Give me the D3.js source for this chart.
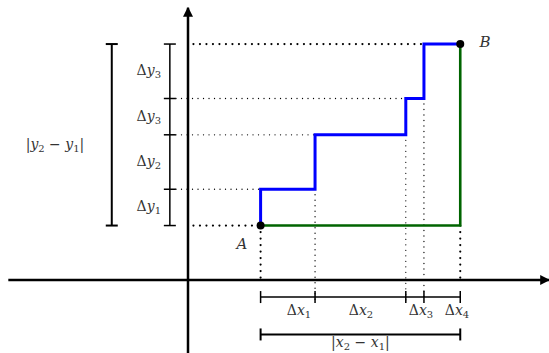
<!DOCTYPE html>
<html>
<head>
<meta charset="utf-8">
<script src="https://cdn.jsdelivr.net/npm/d3@7"></script>
<style>
  body { margin: 0; background: #fff; }
</style>
</head>
<body>
<div id="chart"></div>
<script>
// staircase breakpoints (data units)
var stepX = [2, 3.5, 6, 6.5, 7.5];
var stepY = [1.5, 2.5, 4, 5, 6.5];
var dxLabels = ["1", "2", "3", "4"];
var dyLabels = ["1", "2", "3", "3"];

var width = 549, height = 353;
var serif = "'DejaVu Serif', 'Liberation Serif', serif";
var ink = "#333";

var svg = d3.select("#chart").append("svg")
    .attr("width", width)
    .attr("height", height)
    .attr("font-family", serif);

var x = d3.scaleLinear().domain([-5, 10]).range([6.5, 551]);
var y = d3.scaleLinear().domain([-2, 7.5]).range([352.6, 7.75]);

var defs = svg.append("defs");
defs.append("marker")
    .attr("id", "arrow")
    .attr("viewBox", "0 0 10 10")
    .attr("refX", 9).attr("refY", 5)
    .attr("markerWidth", 4).attr("markerHeight", 4)
    .attr("markerUnits", "strokeWidth")
    .attr("orient", "auto")
    .append("path")
    .attr("d", "M0,0 L10,5 L0,10 z")
    .attr("fill", "#000");

// axes
svg.append("line")
    .attr("x1", x(-4.95)).attr("x2", x(9.95))
    .attr("y1", y(0)).attr("y2", y(0))
    .attr("stroke", "#000").attr("stroke-width", 2.5)
    .attr("marker-end", "url(#arrow)");
svg.append("line")
    .attr("x1", x(0)).attr("x2", x(0))
    .attr("y1", y(-2.1)).attr("y2", y(7.5))
    .attr("stroke", "#000").attr("stroke-width", 2.5)
    .attr("marker-end", "url(#arrow)");

var x0 = stepX[0], y0 = stepY[0];
var xN = stepX[stepX.length - 1], yN = stepY[stepY.length - 1];

function dotted(x1, y1, x2, y2, thick) {
    svg.append("line")
        .attr("x1", x1).attr("y1", y1).attr("x2", x2).attr("y2", y2)
        .attr("stroke", "#000")
        .attr("stroke-width", thick ? 2.2 : 1.3)
        .attr("stroke-linecap", "round")
        .attr("stroke-dasharray", thick ? "0 6.5" : "0 5.5");
}

// thick dotted guides at A and B
dotted(x(0.15), y(yN), x(stepX[3]), y(yN), true);
dotted(x(0.15), y(y0), x(x0), y(y0), true);
dotted(x(x0), y(y0), x(x0), y(0), true);
dotted(x(xN), y(y0), x(xN), y(0), true);

// thin dotted guides at intermediate steps
dotted(x(-0.33), y(stepY[1]), x(stepX[0]), y(stepY[1]), false);
dotted(x(-0.33), y(stepY[2]), x(stepX[1]), y(stepY[2]), false);
dotted(x(-0.33), y(stepY[3]), x(stepX[2]), y(stepY[3]), false);
dotted(x(stepX[1]), y(stepY[1]), x(stepX[1]), y(-0.55), false);
dotted(x(stepX[2]), y(stepY[2]), x(stepX[2]), y(-0.55), false);
dotted(x(stepX[3]), y(stepY[3]), x(stepX[3]), y(-0.55), false);

// green path A -> corner -> B
var line = d3.line().x(function (d) { return x(d[0]); }).y(function (d) { return y(d[1]); });
svg.append("path")
    .attr("d", line([[x0, y0], [xN, y0], [xN, yN]]))
    .attr("fill", "none").attr("stroke", "#006400").attr("stroke-width", 2.6);

// blue staircase
var stairs = [];
for (var i = 0; i < stepX.length - 1; i++) {
    stairs.push([stepX[i], stepY[i]]);
    stairs.push([stepX[i], stepY[i + 1]]);
}
stairs.push([xN, yN]);
svg.append("path")
    .attr("d", line(stairs))
    .attr("fill", "none").attr("stroke", "#0000ff").attr("stroke-width", 3);

// points
svg.selectAll("circle.pt").data([[x0, y0], [xN, yN]]).enter()
    .append("circle")
    .attr("cx", function (d) { return x(d[0]); })
    .attr("cy", function (d) { return y(d[1]); })
    .attr("r", 4).attr("fill", "#000");

svg.append("text").attr("x", 242).attr("y", 249).attr("fill", ink)
    .attr("text-anchor", "middle").attr("font-size", 15).attr("font-style", "italic").text("A");
svg.append("text").attr("x", 485).attr("y", 47).attr("fill", ink)
    .attr("text-anchor", "middle").attr("font-size", 15).attr("font-style", "italic").text("B");

// bracket helper
function vBracket(px, ticks, w, sw) {
    svg.append("line").attr("x1", px).attr("x2", px)
        .attr("y1", d3.min(ticks)).attr("y2", d3.max(ticks))
        .attr("stroke", "#000").attr("stroke-width", sw);
    ticks.forEach(function (t) {
        svg.append("line").attr("x1", px - w).attr("x2", px + w)
            .attr("y1", t).attr("y2", t)
            .attr("stroke", "#000").attr("stroke-width", sw);
    });
}
function hBracket(py, ticks, h, sw) {
    svg.append("line").attr("y1", py).attr("y2", py)
        .attr("x1", d3.min(ticks)).attr("x2", d3.max(ticks))
        .attr("stroke", "#000").attr("stroke-width", sw);
    ticks.forEach(function (t) {
        svg.append("line").attr("y1", py - h).attr("y2", py + h)
            .attr("x1", t).attr("x2", t)
            .attr("stroke", "#000").attr("stroke-width", sw);
    });
}

var bx1 = x(-2.1), bx2 = x(-0.5);
vBracket(bx1, [y(y0), y(yN)], 6, 2);
vBracket(bx2, stepY.map(y), 6, 1.5);
var by1 = y(-0.47), by2 = y(-1.5);
hBracket(by1, stepX.map(x), 6, 1.5);
hBracket(by2, [x(x0), x(xN)], 6, 2);

// math label: Δ + italic var + subscript
function mathLabel(cx, cy, v, sub) {
    var t = svg.append("text").attr("x", cx).attr("y", cy).attr("fill", ink)
        .attr("text-anchor", "middle").attr("font-size", 14);
    t.append("tspan").text("\u0394");
    t.append("tspan").attr("font-style", "italic").text(v);
    t.append("tspan").attr("font-size", 10).attr("dy", 3).text(sub);
}

for (var j = 0; j < dyLabels.length; j++) {
    var mid = (stepY[j] + stepY[j + 1]) / 2;
    mathLabel(x(-1.08), y(mid) + 4, "y", dyLabels[j]);
}
var dxPos = [299, 361, 421, 457];
for (var k = 0; k < dxLabels.length; k++) {
    mathLabel(dxPos[k], 315, "x", dxLabels[k]);
}

function absDiff(cx, cy, v) {
    var t = svg.append("text").attr("x", cx).attr("y", cy).attr("fill", ink)
        .attr("text-anchor", "middle").attr("font-size", 14);
    t.append("tspan").text("|");
    t.append("tspan").attr("font-style", "italic").text(v);
    t.append("tspan").attr("font-size", 10).attr("dy", 3).text("2");
    t.append("tspan").attr("dy", -3).text(" \u2212 ");
    t.append("tspan").attr("font-style", "italic").text(v);
    t.append("tspan").attr("font-size", 10).attr("dy", 3).text("1");
    t.append("tspan").attr("dy", -3).text("|");
}
absDiff(55, 149, "y");
absDiff((x(x0) + x(xN)) / 2, 347, "x");
</script>
</body>
</html>
